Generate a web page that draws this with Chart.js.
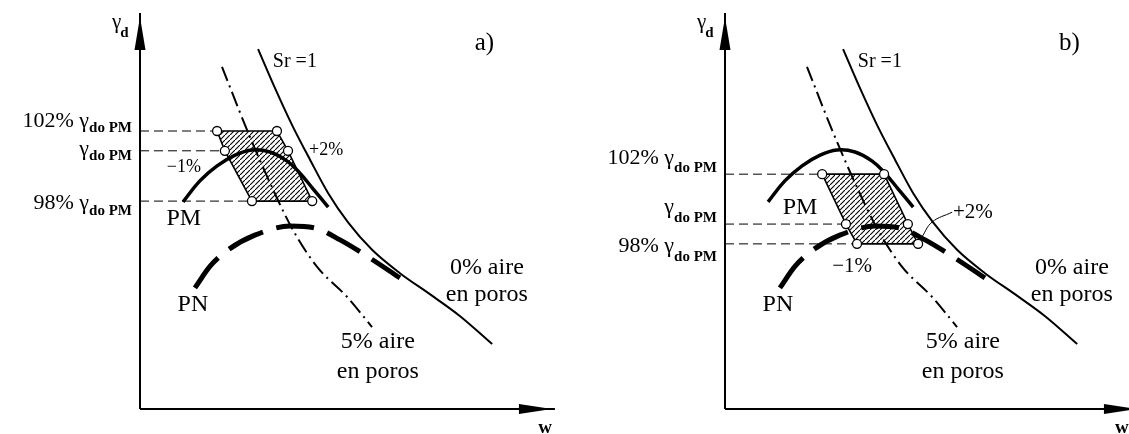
<!DOCTYPE html>
<html>
<head>
<meta charset="utf-8">
<script src="https://cdn.jsdelivr.net/npm/chart.js@4/dist/chart.umd.min.js"></script>
<style>
  html, body { margin: 0; padding: 0; background: #fff; overflow: hidden; }
  #wrap { position: relative; width: 1129px; height: 434px; overflow: hidden; background: #fff; }
  canvas { position: absolute; top: 0; }
  #chartA { left: 0; }
  #chartB { left: 585px; }
</style>
</head>
<body>
<div id="wrap">
  <canvas id="chartA" width="585" height="434"></canvas>
  <canvas id="chartB" width="585" height="434"></canvas>
</div>
<script>
// Compaction diagram: dry unit weight (γd) versus water content (w), in relative units 0–100.

// Saturation line Sr = 1 (0% air voids)
const satW = [28.8, 32.9, 37.1, 41.5, 45.9, 50.7, 56.6, 63.4, 70.7, 78.0, 85.9];
const satG = [90.9, 81.1, 71.7, 62.9, 54.5, 47.2, 40.2, 34.3, 29.0, 23.5, 16.4];

// 5% air voids line
const air5W = [20.0, 26.1, 31.7, 37.3, 43.2, 50.5, 56.6];
const air5G = [86.4, 70.5, 57.1, 45.2, 35.9, 28.3, 20.7];

// Modified Proctor curve (PM)
const pmW = [10.5, 14.6, 18.8, 23.2, 27.3, 31.7, 35.9, 38.8, 42.2, 45.9];
const pmG = [52.3, 57.6, 61.4, 64.1, 65.4, 64.9, 62.6, 59.8, 55.6, 51.0];

// Standard Proctor curve (PN)
const pnW = [13.4, 17.1, 21.5, 28.0, 36.6, 42.7, 48.8, 56.1, 63.4];
const pnG = [30.6, 36.1, 40.2, 43.9, 46.2, 45.7, 42.7, 38.1, 33.1];

// Density levels: 102% γdo PM, γdo PM, 98% γdo PM
const levelsA = [70.2, 65.2, 52.5];
const levelsB = [59.3, 46.7, 41.7];
const levelPrefix = ['102% ', '', '98% '];

// Acceptance zone corners: top-left, top-right, mid-right, bottom-right, bottom-left, mid-left
const zoneA_W = [18.8, 33.4, 36.1, 42.0, 27.3, 20.7];
const zoneB_W = [23.7, 38.8, 44.6, 47.1, 32.2, 29.5];
const zoneLevelIdx = [0, 0, 1, 2, 2, 1];

// Leader line for the "+2%" note in panel b
const leaderW = [48.0, 50.5, 55.4];
const leaderG = [43.4, 47.2, 49.7];

const SERIF = '"Liberation Serif", "DejaVu Serif", serif';

function pts(ws, gs) { return ws.map((w, i) => ({ x: w, y: gs[i] })); }

// diagonal hatch tile
const hatchTile = (() => {
  const c = document.createElement('canvas');
  c.width = 5; c.height = 5;
  const g = c.getContext('2d');
  g.strokeStyle = '#000';
  g.lineWidth = 1.1;
  g.beginPath(); g.moveTo(-1, 6); g.lineTo(6, -1); g.stroke();
  return c;
})();

function buildPanel(canvas, cfg) {
  const zoneG = zoneLevelIdx.map(i => cfg.levels[i]);
  const zonePts = pts(cfg.zoneW, zoneG);
  const leftIdx = [0, 5, 4];

  const line = (data, extra) => Object.assign({
    data, showLine: true, pointRadius: 0, borderColor: '#000', fill: false,
    borderCapStyle: 'butt', tension: 0.4, cubicInterpolationMode: 'monotone'
  }, extra);

  const datasets = [
    { data: zonePts, showLine: false, pointRadius: 4.5, pointHoverRadius: 4.5,
      pointBackgroundColor: '#fff', pointBorderColor: '#000', pointBorderWidth: 1.3, order: 0 },
    line(pts(pmW, pmG), { borderWidth: 3.5, tension: 0.4, cubicInterpolationMode: 'default', order: 1 }),
    line(zonePts.concat([zonePts[0]]), { borderWidth: 1.6, tension: 0, cubicInterpolationMode: 'default', order: 2 }),
    line(pts(pnW, pnG), { borderWidth: 5, borderDash: [38, 14], order: 3 }),
    line(pts(air5W, air5G), { borderWidth: 2, borderDash: [15, 5, 2, 5], order: 4 }),
    line(pts(satW, satG), { borderWidth: 2, order: 5 })
  ];
  cfg.levels.forEach((lv, k) => {
    datasets.push(line([{ x: 0, y: lv }, { x: cfg.zoneW[leftIdx[k]], y: lv }],
      { borderWidth: 1, borderDash: [9, 5], tension: 0, order: 6 }));
  });
  if (cfg.leader) {
    datasets.push(line(pts(leaderW, leaderG), { borderWidth: 1, tension: 0.4, cubicInterpolationMode: 'default', order: 7 }));
  }

  const hatchPlugin = {
    id: 'hatch',
    beforeDatasetsDraw(chart) {
      const { ctx, scales: { x, y } } = chart;
      ctx.save();
      ctx.beginPath();
      zonePts.forEach((p, i) => {
        const px = x.getPixelForValue(p.x), py = y.getPixelForValue(p.y);
        if (i) ctx.lineTo(px, py); else ctx.moveTo(px, py);
      });
      ctx.closePath();
      ctx.fillStyle = ctx.createPattern(hatchTile, 'repeat');
      ctx.fill();
      ctx.restore();
    }
  };

  const axesPlugin = {
    id: 'axesArrows',
    beforeDatasetsDraw(chart) {
      const { ctx, scales: { x, y } } = chart;
      const x0 = x.getPixelForValue(0), y0 = y.getPixelForValue(0);
      const yTop = y.getPixelForValue(100);
      const xEnd = x.getPixelForValue(101.2);
      ctx.save();
      ctx.strokeStyle = '#000'; ctx.fillStyle = '#000'; ctx.lineWidth = 2;
      ctx.beginPath();
      ctx.moveTo(x0, y0); ctx.lineTo(x0, yTop);
      ctx.moveTo(x0, y0); ctx.lineTo(xEnd, y0);
      ctx.stroke();
      // arrowheads
      ctx.beginPath();
      ctx.moveTo(x0, yTop + 4); ctx.lineTo(x0 - 5.5, yTop + 37); ctx.lineTo(x0 + 5.5, yTop + 37); ctx.closePath();
      ctx.fill();
      ctx.beginPath();
      ctx.moveTo(xEnd - 3, y0); ctx.lineTo(xEnd - 36, y0 - 5); ctx.lineTo(xEnd - 36, y0 + 5); ctx.closePath();
      ctx.fill();
      ctx.restore();
    }
  };

  const textPlugin = {
    id: 'texts',
    afterDatasetsDraw(chart) {
      const { ctx, scales: { x, y } } = chart;
      ctx.save();
      ctx.fillStyle = '#000';
      ctx.textBaseline = 'middle';
      cfg.texts.forEach(t => {
        ctx.font = t.f + ' ' + SERIF;
        ctx.textAlign = t.a || 'center';
        ctx.fillText(t.t, x.getPixelForValue(t.w), y.getPixelForValue(t.g));
      });

      // γd axis title
      ctx.textBaseline = 'alphabetic';
      ctx.textAlign = 'left';
      const ax = x.getPixelForValue(0);
      ctx.font = '21px ' + SERIF;
      const gx = ax - 28, gy = y.getPixelForValue(100) + 15;
      ctx.fillText('γ', gx, gy);
      const gw = ctx.measureText('γ').width;
      ctx.font = 'bold 15px ' + SERIF;
      ctx.fillText('d', gx + gw - 1, gy + 9);

      // level labels at the γd axis
      cfg.levels.forEach((lv, k) => {
        const ly = y.getPixelForValue(lv);
        const mainTxt = levelPrefix[k] + 'γ';
        const subTxt = 'do PM';
        ctx.font = '22px ' + SERIF;
        const mw = ctx.measureText(mainTxt).width;
        ctx.font = 'bold 15px ' + SERIF;
        const sw = ctx.measureText(subTxt).width;
        const right = ax - 8;
        const left = right - (mw + sw);
        const mb = ly + cfg.labelOff[k][0];
        ctx.font = '22px ' + SERIF;
        ctx.fillText(mainTxt, left, mb);
        ctx.font = 'bold 15px ' + SERIF;
        ctx.fillText(subTxt, left + mw, mb + cfg.labelOff[k][1]);
      });
      ctx.restore();
    }
  };

  return new Chart(canvas, {
    type: 'scatter',
    data: { datasets },
    options: {
      responsive: false,
      animation: false,
      events: [],
      layout: { padding: { left: 140, right: 35, top: 13, bottom: 25 } },
      scales: {
        x: { type: 'linear', min: 0, max: 100, display: false },
        y: { type: 'linear', min: 0, max: 100, display: false }
      },
      plugins: { legend: { display: false }, tooltip: { enabled: false } }
    },
    plugins: [hatchPlugin, axesPlugin, textPlugin]
  });
}

const commonTexts = [
  { t: 'Sr =1', w: 32.4, g: 87.6, f: '20px', a: 'left' },
  { t: 'PN', w: 12.9, g: 26.3, f: '24px' },
  { t: '0% aire', w: 84.6, g: 35.6, f: '24px' },
  { t: 'en poros', w: 84.6, g: 28.8, f: '24px' },
  { t: '5% aire', w: 58.0, g: 16.9, f: '24px' },
  { t: 'en poros', w: 58.0, g: 9.3, f: '24px' }
];

buildPanel(document.getElementById('chartA'), {
  levels: levelsA,
  zoneW: zoneA_W,
  leader: false,
  labelOff: [[-4, 5], [4, 5], [8, 6]],
  texts: commonTexts.concat([
    { t: 'a)', w: 84.0, g: 92.2, f: '25px' },
    { t: '−1%', w: 10.7, g: 61.1, f: '18px' },
    { t: '+2%', w: 45.4, g: 65.4, f: '18px' },
    { t: 'PM', w: 10.7, g: 48.0, f: '24px' },
    { t: 'w', w: 98.8, g: -4.8, f: 'bold 19px' }
  ])
});

buildPanel(document.getElementById('chartB'), {
  levels: levelsB,
  zoneW: zoneB_W,
  leader: true,
  labelOff: [[-10, 8], [-11, 9], [8, 9]],
  texts: commonTexts.concat([
    { t: 'b)', w: 84.0, g: 92.2, f: '25px' },
    { t: '−1%', w: 31.0, g: 36.1, f: '21px' },
    { t: '+2%', w: 55.6, g: 49.5, f: '21px', a: 'left' },
    { t: 'PM', w: 18.3, g: 50.8, f: '24px' },
    { t: 'w', w: 96.8, g: -4.8, f: 'bold 19px' }
  ])
});
</script>
</body>
</html>
